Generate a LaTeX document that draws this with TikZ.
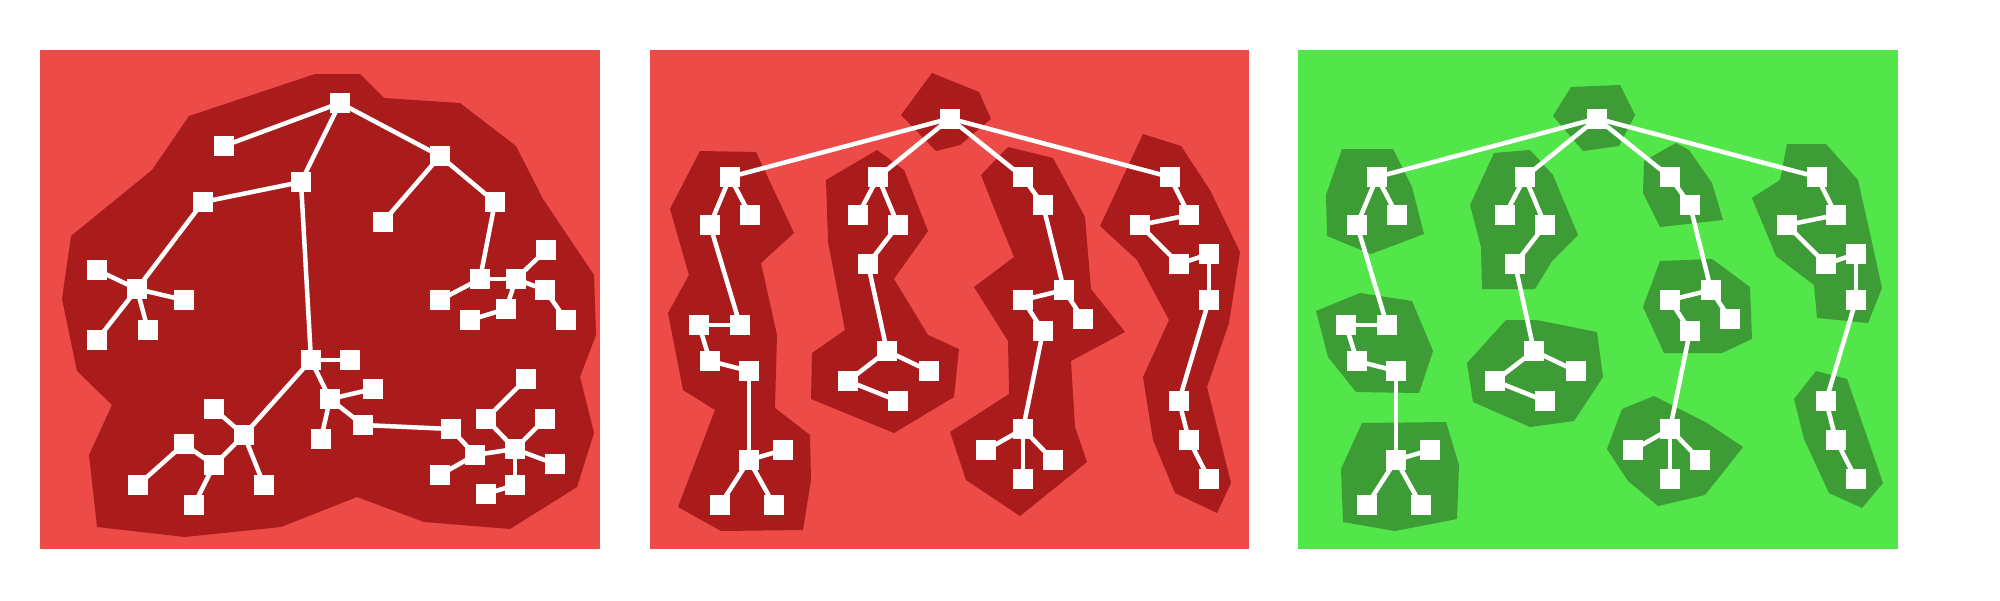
\documentclass[tikz,border=0pt]{standalone}
\usetikzlibrary{backgrounds}
\pgfdeclarelayer{edgelayer}
\pgfsetlayers{background,edgelayer,main}
\definecolor{redlight}{RGB}{237,75,72}
\definecolor{reddark}{RGB}{170,27,27}
\definecolor{greenlight}{RGB}{82,230,74}
\definecolor{greendark}{RGB}{61,156,54}
\tikzset{
  sq/.style={rectangle,fill=white,draw=none,inner sep=0pt,minimum size=20pt},
  ed/.style={draw=white,line width=4.5pt},
}
\newcommand\mytree[1]{%
  \node[sq] (#1R) at (950,118.5) {};
  \node[sq] (#1a1) at (730,177) {};
  \node[sq] (#1a2) at (750,215) {};
  \node[sq] (#1a3) at (710,225) {};
  \node[sq] (#1a4) at (740,325) {};
  \node[sq] (#1a5) at (699,325) {};
  \node[sq] (#1a6) at (710,361) {};
  \node[sq] (#1a7) at (749,371) {};
  \node[sq] (#1a8) at (749,460) {};
  \node[sq] (#1a9) at (783,450) {};
  \node[sq] (#1a10) at (720,505) {};
  \node[sq] (#1a11) at (774,505) {};
  \node[sq] (#1b1) at (878,177) {};
  \node[sq] (#1b2) at (858,215) {};
  \node[sq] (#1b3) at (898,225) {};
  \node[sq] (#1b4) at (868,264) {};
  \node[sq] (#1b5) at (887,351) {};
  \node[sq] (#1b6) at (929,371) {};
  \node[sq] (#1b7) at (848,381) {};
  \node[sq] (#1b8) at (898,401) {};
  \node[sq] (#1c1) at (1023,177) {};
  \node[sq] (#1c2) at (1043,205) {};
  \node[sq] (#1c3) at (1064,290) {};
  \node[sq] (#1c4) at (1023,300) {};
  \node[sq] (#1c5) at (1083,319) {};
  \node[sq] (#1c6) at (1043,331) {};
  \node[sq] (#1c7) at (1023,429) {};
  \node[sq] (#1c8) at (986,450) {};
  \node[sq] (#1c9) at (1053,460) {};
  \node[sq] (#1c10) at (1023,479) {};
  \node[sq] (#1d1) at (1170,177) {};
  \node[sq] (#1d2) at (1189,215) {};
  \node[sq] (#1d3) at (1140,225) {};
  \node[sq] (#1d4) at (1179,264) {};
  \node[sq] (#1d5) at (1209,254) {};
  \node[sq] (#1d6) at (1209,300) {};
  \node[sq] (#1d7) at (1179,401) {};
  \node[sq] (#1d8) at (1189,440) {};
  \node[sq] (#1d9) at (1209,479) {};
  \begin{pgfonlayer}{edgelayer}
  \foreach \u/\v in {R/a1,a1/a2,a1/a3,a3/a4,a4/a5,a5/a6,a6/a7,a7/a8,a8/a9,a8/a10,a8/a11,
    R/b1,b1/b2,b1/b3,b3/b4,b4/b5,b5/b6,b5/b7,b7/b8,
    R/c1,c1/c2,c2/c3,c3/c4,c3/c5,c4/c6,c6/c7,c7/c8,c7/c9,c7/c10,
    R/d1,d1/d2,d2/d3,d3/d4,d4/d5,d5/d6,d6/d7,d7/d8,d8/d9}
    {\draw[ed] (#1\u.center) -- (#1\v.center);}
  \end{pgfonlayer}%
}
\begin{document}
\begin{tikzpicture}[x=1pt,y=-1pt]
\useasboundingbox (0,0) rectangle (2000,600);
\begin{pgfonlayer}{background}
\fill[white] (0,0) rectangle (2000,600);
% panels
\fill[redlight] (40,50) rectangle (600,549);
\fill[redlight] (650,50) rectangle (1249,549);
\fill[greenlight] (1298,50) rectangle (1898,549);
% panel 1 blob
\fill[reddark] (315,74) -- (360,74) -- (384,98) -- (460,103) -- (516,146) -- (543,199) -- (594,275) -- (596,335) -- (580,377) -- (594,433) -- (577,487) -- (510,529) -- (424,522) -- (357,497) -- (281,527) -- (185,537) -- (97,527) -- (89,455) -- (112,405) -- (77,371) -- (62,299) -- (71,236) -- (152,170) -- (189,116) -- cycle;
% panel 2 blobs
\fill[reddark] (932,73) -- (979,92) -- (991,119) -- (960,145) -- (936,151) -- (901,115) -- cycle;
\fill[reddark] (700,151) -- (756,152) -- (794,233) -- (761,263) -- (777,335) -- (775,408) -- (810,435) -- (811,480) -- (803,530) -- (721,531) -- (678,507) -- (715,410) -- (683,390) -- (668,313) -- (689,275) -- (670,209) -- cycle;
\fill[reddark] (877,150) -- (904,170) -- (928,231) -- (894,279) -- (928,335) -- (959,349) -- (954,397) -- (894,433) -- (811,399) -- (812,353) -- (845,330) -- (828,242) -- (826,180) -- cycle;
\fill[reddark] (1008,147) -- (1053,158) -- (1085,217) -- (1091,289) -- (1125,332) -- (1071,361) -- (1075,427) -- (1087,462) -- (1020,516) -- (966,480) -- (950,432) -- (1009,394) -- (1008,341) -- (974,287) -- (1014,257) -- (996,213) -- (981,175) -- cycle;
\fill[reddark] (1143,134) -- (1181,146) -- (1210,190) -- (1240,252) -- (1229,323) -- (1207,387) -- (1231,483) -- (1217,513) -- (1175,493) -- (1153,440) -- (1143,377) -- (1169,320) -- (1137,260) -- (1100,226) -- cycle;
% panel 3 blobs
\fill[greendark] (1571,87) -- (1620,85) -- (1635,115) -- (1619,146) -- (1583,151) -- (1553,116) -- cycle;
\fill[greendark] (1342,149) -- (1393,149) -- (1412,187) -- (1424,234) -- (1371,254) -- (1327,236) -- (1326,195) -- cycle;
\fill[greendark] (1360,293) -- (1412,301) -- (1433,351) -- (1419,393) -- (1356,392) -- (1328,357) -- (1316,311) -- cycle;
\fill[greendark] (1362,423) -- (1446,422) -- (1459,465) -- (1457,519) -- (1395,531) -- (1343,522) -- (1341,469) -- cycle;
\fill[greendark] (1494,153) -- (1530,150) -- (1553,175) -- (1578,235) -- (1552,261) -- (1535,289) -- (1482,289) -- (1481,247) -- (1470,205) -- cycle;
\fill[greendark] (1506,320) -- (1537,320) -- (1597,332) -- (1603,377) -- (1574,421) -- (1530,427) -- (1473,402) -- (1467,363) -- cycle;
\fill[greendark] (1644,161) -- (1676,143) -- (1689,150) -- (1712,183) -- (1723,220) -- (1660,227) -- (1643,193) -- cycle;
\fill[greendark] (1660,261) -- (1712,259) -- (1750,287) -- (1752,339) -- (1722,353) -- (1664,353) -- (1643,307) -- cycle;
\fill[greendark] (1654,396) -- (1707,423) -- (1743,447) -- (1705,495) -- (1658,506) -- (1628,481) -- (1607,449) -- (1622,409) -- cycle;
\fill[greendark] (1787,144) -- (1826,144) -- (1858,180) -- (1873,247) -- (1882,288) -- (1868,323) -- (1817,318) -- (1814,285) -- (1776,256) -- (1752,198) -- (1780,180) -- cycle;
\fill[greendark] (1816,371) -- (1847,379) -- (1883,483) -- (1862,508) -- (1829,493) -- (1804,439) -- (1794,399) -- cycle;
\end{pgfonlayer}
% panel 1 nodes
\node[sq] (A) at (340,103) {};
\node[sq] (B) at (224,146) {};
\node[sq] (C) at (301,182) {};
\node[sq] (D) at (440,156) {};
\node[sq] (E) at (203,202) {};
\node[sq] (F) at (383,222) {};
\node[sq] (G) at (495,202) {};
\node[sq] (H) at (137,289) {};
\node[sq] (H1) at (97,270) {};
\node[sq] (H2) at (184,300) {};
\node[sq] (H3) at (148,330) {};
\node[sq] (H4) at (97,340) {};
\node[sq] (I) at (480,279) {};
\node[sq] (I2) at (516,279) {};
\node[sq] (I3) at (546,250) {};
\node[sq] (I4) at (545,290) {};
\node[sq] (I5) at (566,320) {};
\node[sq] (I6) at (506,309) {};
\node[sq] (I7) at (470,320) {};
\node[sq] (I8) at (440,300) {};
\node[sq] (J) at (311,360) {};
\node[sq] (J1) at (350,360) {};
\node[sq] (K) at (330,399) {};
\node[sq] (K1) at (373,389) {};
\node[sq] (K2) at (321,439) {};
\node[sq] (L) at (363,425) {};
\node[sq] (M) at (451,429) {};
\node[sq] (N) at (475,455) {};
\node[sq] (N1) at (440,475) {};
\node[sq] (O) at (515,449) {};
\node[sq] (P1) at (526,379) {};
\node[sq] (P2) at (486,419) {};
\node[sq] (P3) at (545,419) {};
\node[sq] (P4) at (555,464) {};
\node[sq] (P5) at (515,485) {};
\node[sq] (P6) at (486,494) {};
\node[sq] (Q) at (244,435) {};
\node[sq] (Q1) at (214,409) {};
\node[sq] (Q2) at (214,465) {};
\node[sq] (Q3) at (184,444) {};
\node[sq] (Q4) at (138,485) {};
\node[sq] (Q5) at (194,505) {};
\node[sq] (Q6) at (264,485) {};
\begin{pgfonlayer}{edgelayer}
\foreach \u/\v in {A/B,A/C,A/D,C/E,C/J,D/F,D/G,E/H,H/H1,H/H2,H/H3,H/H4,
  G/I,I/I8,I/I2,I2/I3,I2/I4,I4/I5,I2/I6,I6/I7,
  J/J1,J/K,J/Q,K/K1,K/K2,K/L,L/M,M/N,N/N1,N/O,O/P2,P2/P1,O/P3,O/P4,O/P5,P5/P6,
  Q/Q1,Q/Q2,Q/Q6,Q2/Q3,Q3/Q4,Q2/Q5}
  {\draw[ed] (\u.center) -- (\v.center);}
\end{pgfonlayer}
% panel 2 tree
\mytree{s}
% panel 3 tree
\begin{scope}[xshift=647pt]
\mytree{t}
\end{scope}
\end{tikzpicture}
\end{document}
